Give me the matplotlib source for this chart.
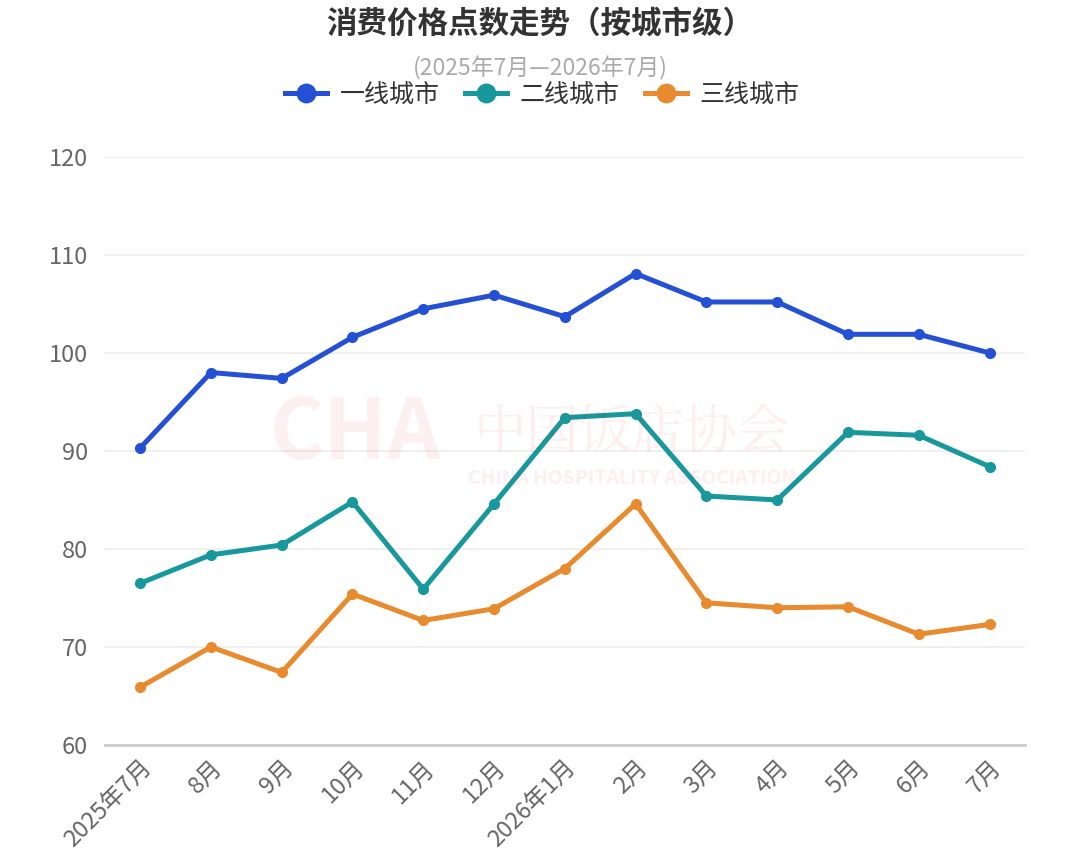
import numpy as np
import matplotlib
matplotlib.use("Agg")
import matplotlib.pyplot as plt

plt.rcParams["font.family"] = ["Noto Sans CJK SC", "DejaVu Sans"]

# données
mois = ["2025年7月", "8月", "9月", "10月", "11月", "12月", "2026年1月",
        "2月", "3月", "4月", "5月", "6月", "7月"]
ville_1 = [90.3, 98.0, 97.4, 101.6, 104.5, 105.9, 103.7, 108.1, 105.2, 105.2, 101.9, 101.9, 100.0]
ville_2 = [76.5, 79.4, 80.4, 84.8, 75.9, 84.6, 93.4, 93.8, 85.4, 85.0, 91.9, 91.6, 88.4]
ville_3 = [65.9, 70.0, 67.4, 75.4, 72.7, 73.9, 78.0, 84.6, 74.5, 74.0, 74.1, 71.3, 72.3]
noms = ["一线城市", "二线城市", "三线城市"]
couleurs = ["#2450D6", "#17989C", "#E88A2E"]
y_ticks = [60, 70, 80, 90, 100, 110, 120]

fig = plt.figure(figsize=(10.8, 8.51), dpi=100)
ax = fig.add_axes([0.097, 0.1246, 0.852, 0.691])

x = np.arange(len(mois))
for serie, nom, c in zip([ville_1, ville_2, ville_3], noms, couleurs):
    ax.plot(x, serie, color=c, lw=3.6, marker="o", markersize=7,
            label=nom, zorder=3, solid_joinstyle="round")

ax.set_xlim(-0.5, len(mois) - 0.5)
ax.set_ylim(60, 120)
ax.set_yticks(y_ticks)
ax.set_xticks(x)
ax.set_xticklabels(mois, rotation=45, ha="right", rotation_mode="anchor")
ax.tick_params(axis="both", length=0, labelsize=17, colors="#666666", pad=12)
ax.tick_params(axis="x", pad=8)
ax.grid(axis="y", color="#eeeeee", lw=1.2, zorder=0)
for s in ["top", "right", "left"]:
    ax.spines[s].set_visible(False)
ax.spines["bottom"].set_color("#cccccc")
ax.spines["bottom"].set_linewidth(2)

# filigrane
fig.text(0.585, 0.49, "中国饭店协会", fontsize=38, color="#e8303a", alpha=0.08,
         ha="center", va="center", family=["Noto Serif CJK SC", "Noto Sans CJK SC"])
fig.text(0.585, 0.438, "CHINA HOSPITALITY ASSOCIATION", fontsize=14, color="#e8303a",
         alpha=0.08, ha="center", va="center", fontweight="bold")
fig.text(0.329, 0.49, "CHA", fontsize=60, color="#e8303a", alpha=0.07,
         ha="center", va="center", fontweight="bold")

fig.text(0.5, 0.972, "消费价格点数走势（按城市级）", fontsize=22, fontweight="bold",
         color="#333333", ha="center", va="center")
fig.text(0.5, 0.92, "(2025年7月—2026年7月)", fontsize=16.5, color="#aaaaaa",
         ha="center", va="center")

fig.legend(loc="center", bbox_to_anchor=(0.502, 0.889), ncol=3, frameon=False,
           fontsize=18, handlelength=1.7, columnspacing=1.0, handletextpad=0.5,
           labelcolor="#333333", markerscale=1.9)

fig.savefig("out.png", dpi=100, facecolor="white")
